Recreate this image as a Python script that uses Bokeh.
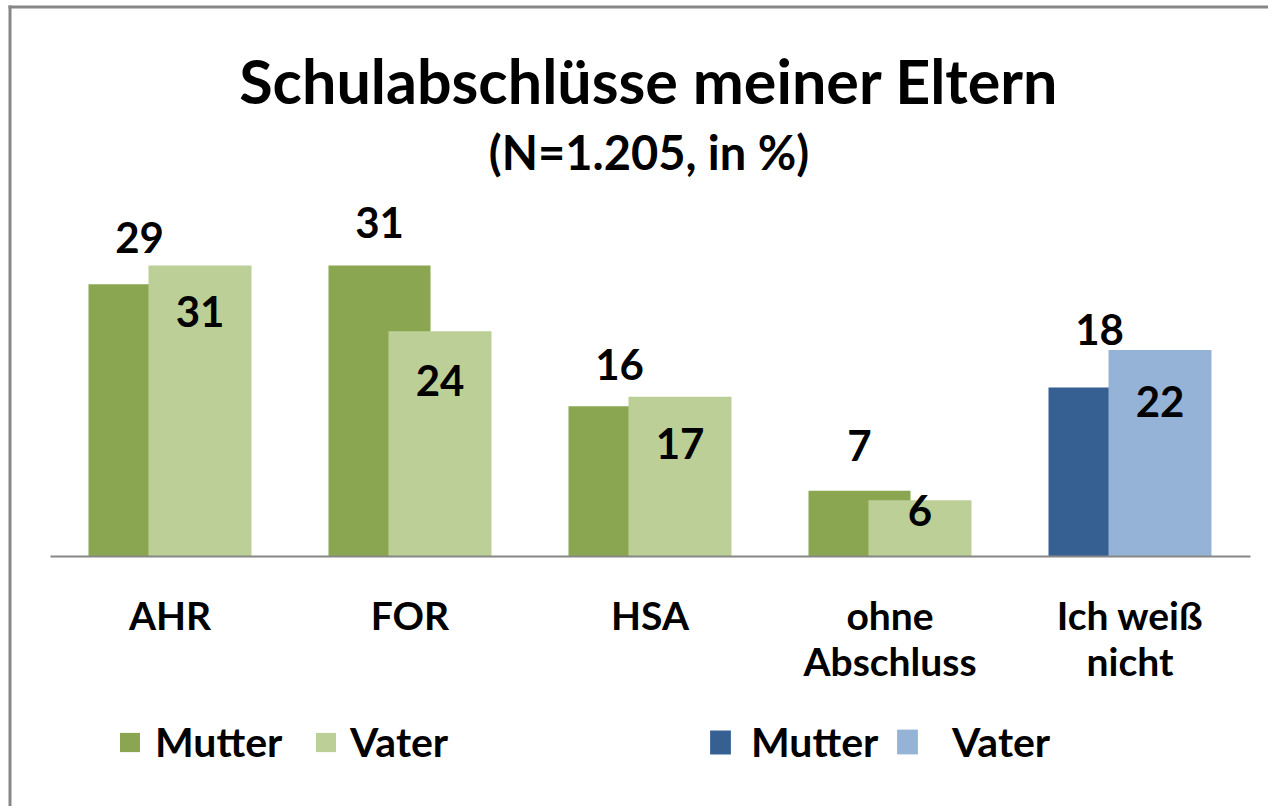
from bokeh.plotting import figure
from bokeh.models import (Range1d, Label, Legend, LegendItem, ColumnDataSource,
                          FixedTicker, BoxAnnotation)
from bokeh.transform import dodge
from bokeh.core.properties import value
from bokeh.embed import file_html
from bokeh.resources import INLINE

# ---------------- data ----------------
categories = ["AHR", "FOR", "HSA", "ohne Abschluss", "Ich weiß nicht"]
category_tick_labels = ["AHR", "FOR", "HSA", "ohne\nAbschluss", "Ich weiß\nnicht"]
mutter = [29, 31, 16, 7, 18]
vater = [31, 24, 17, 6, 22]
series_names = ["Mutter", "Vater"]
title_text = "Schulabschlüsse meiner Eltern"
subtitle_text = "(N=1.205, in %)"

# ---------------- styles ----------------
FONT = "Lato"
GREEN_DARK, GREEN_LIGHT = "#8AA650", "#BBCF97"
BLUE_DARK, BLUE_LIGHT = "#376092", "#95B3D7"
BORDER = "#878787"
mutter_colors = [GREEN_DARK, GREEN_DARK, GREEN_DARK, GREEN_DARK, BLUE_DARK]
vater_colors = [GREEN_LIGHT, GREEN_LIGHT, GREEN_LIGHT, GREEN_LIGHT, BLUE_LIGHT]
mutter_label_offsets = [-47, -43, -42, -45, -58]   # px above bar top
vater_label_offsets = [46, 49, 47, 10, 52]         # px below bar top

W, H = 1268, 806
PX_PER_UNIT = 9.39      # vertical pixels per percent
BASE_Y = 556            # pixel row of the baseline
CAT_W = 240             # pixels per category
FIRST_X = 169.5         # pixel column of first category centre

idx = list(range(len(categories)))
x0 = -FIRST_X / CAT_W
p = figure(width=W, height=H,
           x_range=Range1d(x0, x0 + W / CAT_W),
           y_range=Range1d(-(H - BASE_Y) / PX_PER_UNIT, BASE_Y / PX_PER_UNIT),
           output_backend="svg", toolbar_location=None,
           min_border_left=0, min_border_right=0, min_border_top=0, min_border_bottom=0)
p.title.visible = False
p.xgrid.visible = False
p.ygrid.visible = False
p.yaxis.visible = False
p.outline_line_color = None
p.background_fill_color = "white"
p.border_fill_color = "white"

src = ColumnDataSource(dict(
    x=idx, mutter=mutter, vater=vater,
    mc=mutter_colors, vc=vater_colors,
    ml=[str(v) for v in mutter], vl=[str(v) for v in vater],
    moff=mutter_label_offsets, voff=vater_label_offsets,
))

M_OFF, V_OFF = -30.5 / CAT_W, 30 / CAT_W
r_m = p.vbar(x=dodge("x", M_OFF), top="mutter", width=102 / CAT_W,
             fill_color="mc", line_color=None, source=src)
r_v = p.vbar(x=dodge("x", V_OFF), top="vater", width=103 / CAT_W,
             fill_color="vc", line_color=None, source=src)

common_txt = dict(text_align="center", text_baseline="middle", text_font=value(FONT),
                  text_font_style="bold", text_font_size="42px", text_color="black", source=src)
p.text(x=dodge("x", M_OFF), y="mutter", text="ml", y_offset="moff", **common_txt)
p.text(x=dodge("x", V_OFF), y="vater", text="vl", y_offset="voff", **common_txt)

# category axis drawn on the baseline
ax = p.xaxis[0]
ax.fixed_location = 0
ax.bounds = (-0.5, len(categories) - 0.5)
ax.ticker = FixedTicker(ticks=idx)
ax.major_label_overrides = {i: lab for i, lab in zip(idx, category_tick_labels)}
ax.axis_line_color = BORDER
ax.axis_line_width = 2
ax.major_tick_line_color = None
ax.minor_tick_line_color = None
ax.major_tick_out = 0
ax.major_tick_in = 0
ax.major_label_text_font = FONT
ax.major_label_text_font_style = "bold"
ax.major_label_text_font_size = "39px"
ax.major_label_text_color = "black"
ax.major_label_text_line_height = 1.0
ax.major_label_standoff = 35

# title and subtitle
p.add_layout(Label(x=FIRST_X + 2 * CAT_W - 1, y=H - 80, x_units="screen", y_units="screen",
                   text=title_text, text_align="center", text_baseline="middle",
                   text_font=FONT, text_font_style="bold", text_font_size="61px",
                   text_color="black"))
p.add_layout(Label(x=FIRST_X + 2 * CAT_W - 1, y=H - 151, x_units="screen", y_units="screen",
                   text=subtitle_text, text_align="center", text_baseline="middle",
                   text_font=FONT, text_font_style="bold", text_font_size="47px",
                   text_color="black"))

# chart frame (left and top edges)
p.add_layout(BoxAnnotation(left=8, right=11, bottom=0, top=H - 5,
                           left_units="screen", right_units="screen",
                           bottom_units="screen", top_units="screen",
                           fill_color=BORDER, fill_alpha=1, line_color=None))
p.add_layout(BoxAnnotation(left=8, right=W, bottom=H - 8, top=H - 5,
                           left_units="screen", right_units="screen",
                           bottom_units="screen", top_units="screen",
                           fill_color=BORDER, fill_alpha=1, line_color=None))

# legends: (renderer, row index, label, x, glyph w, glyph h, standoff)
legend_specs = [
    (r_m, 0, series_names[0], 117, 25, 24, 13),
    (r_v, 0, series_names[1], 313, 25, 24, 12),
    (r_m, 4, series_names[0], 707, 26, 30, 18),
    (r_v, 4, series_names[1], 894, 26, 31, 32),
]
for rend, i, lab, vx, gw, gh, so in legend_specs:
    leg = Legend(items=[LegendItem(label=value(lab), renderers=[rend], index=i)],
                 location=(vx, H - 766), orientation="horizontal", padding=0, margin=0,
                 border_line_color=None, background_fill_alpha=0,
                 glyph_width=gw, glyph_height=gh, label_standoff=so, spacing=0,
                 label_text_font=FONT, label_text_font_style="bold",
                 label_text_font_size="41px", label_text_color="black")
    p.add_layout(leg)

open("out.html", "w").write(file_html(p, INLINE))
